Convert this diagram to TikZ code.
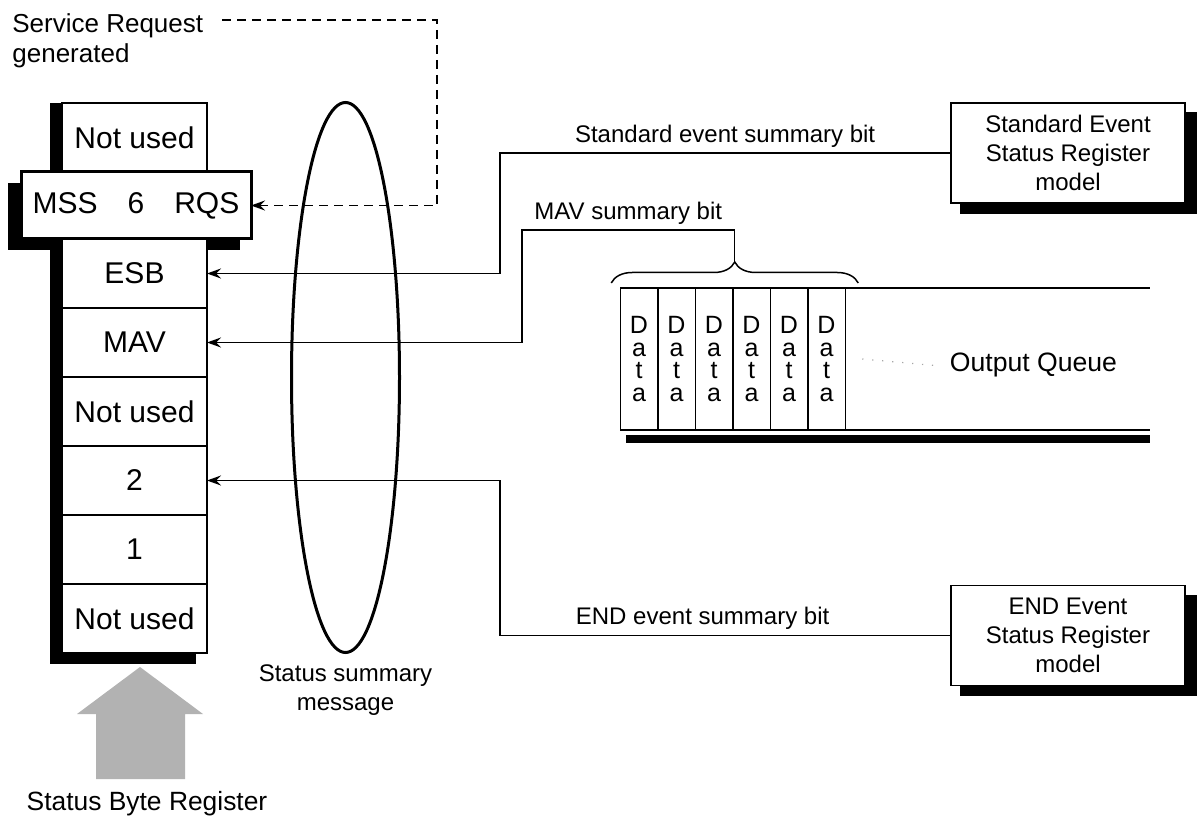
\documentclass[tikz,border=0pt]{standalone}
\usepackage{fontspec}
\setmainfont{Liberation Sans}
\usetikzlibrary{positioning, arrows.meta, shapes.geometric,
decorations.pathreplacing}
\pgfdeclarelayer{background}
\pgfsetlayers{background,main}

\tikzset{
  regcell/.style={draw, line width=0.75pt, fill=white, minimum width=72.5pt,
    minimum height=34.5pt, inner sep=0pt, outer sep=0pt,
    font=\fontsize{15}{18}\selectfont},
  model/.style={draw, line width=0.75pt, fill=white, minimum width=117pt,
    minimum height=50pt, align=center, inner sep=0pt,
    font=\fontsize{12}{14.5}\selectfont},
  datacell/.style={draw, line width=0.75pt, minimum width=18.75pt,
    minimum height=71pt, inner sep=0pt, outer sep=0pt, align=center,
    font=\fontsize{12.5}{11.3}\selectfont},
  lbl/.style={font=\fontsize{12}{14.5}\selectfont, inner sep=2.5pt},
  sig/.style={line width=0.75pt,
    -{Stealth[length=7pt, width=5pt, inset=2.5pt]}},
}

\begin{document}
\begin{tikzpicture}[x=0.5pt, y=-0.5pt]
\useasboundingbox (0,0) rectangle (1201,818);

% status byte register
\node[regcell] (b7) at (134.5,137.5) {Not used};
\node[regcell] (b5) at (134.5,273.5) {ESB};
\node[regcell, below=0pt of b5] (b4) {MAV};
\node[regcell, below=0pt of b4] (b3) {Not used};
\node[regcell, below=0pt of b3] (b2) {2};
\node[regcell, below=0pt of b2] (b1) {1};
\node[regcell, below=0pt of b1] (b0) {Not used};
\node[regcell, line width=1.5pt, minimum width=115pt, minimum height=33.5pt]
    (b6) at (136,205.5) {MSS\quad 6\quad RQS};
\fill[black!30] (140,667) -- (203,714) -- (185,714) -- (185,779)
    -- (96,779) -- (96,714) -- (77,714) -- cycle;
\node[font=\fontsize{13.2}{16}\selectfont, anchor=base] (sbr)
    at (147,810) {Status Byte Register};

% summary message
\node[draw, ellipse, line width=1.5pt, minimum width=54pt,
    minimum height=275pt, inner sep=0pt] (ssm) at (345.5,377.5) {};
\node[lbl, below=5pt of ssm, align=center, inner sep=0pt] (ssmtext)
    {Status summary\\message};

% event registers
\node[model] (ses) at (1068,153) {Standard Event\\Status Register\\model};
\node[model] (ees) at (1068,635.5) {END Event\\Status Register\\model};

% output queue
\node[datacell] (d1) at (639,359) {D\\a\\t\\a};
\node[datacell, right=0pt of d1] (d2) {D\\a\\t\\a};
\node[datacell, right=0pt of d2] (d3) {D\\a\\t\\a};
\node[datacell, right=0pt of d3] (d4) {D\\a\\t\\a};
\node[datacell, right=0pt of d4] (d5) {D\\a\\t\\a};
\node[datacell, right=0pt of d5] (d6) {D\\a\\t\\a};
\coordinate (qtop) at (1150,288);
\coordinate (qbot) at (1150,430);
\draw[line width=0.75pt] (d6.north east) -- (qtop) (d6.south east) -- (qbot);
\node[font=\fontsize{13.3}{16}\selectfont, inner sep=0pt, anchor=base] (oq)
    at (1033.5,372) {Output Queue};
\draw[black!35, line width=0.6pt, dash pattern=on 0.6pt off 4.4pt]
    ([xshift=8.5pt]d6.east) -- ([xshift=-7.5pt]oq.west);
\draw[line width=0.75pt, decorate, decoration={brace, amplitude=10.5pt}]
    ([shift={(-4.5pt,2.5pt)}]d1.north west)
    -- ([shift={(6.5pt,2.5pt)}]d6.north east);

% connectors
\coordinate (esbturn) at (500,153);
\coordinate (mavtip) at (734.5,262);
\coordinate (mavcorner) at (734.5,230);
\coordinate (mavturn) at (522,230);
\coordinate (endturn) at (500,635.5);
\coordinate (srqstart) at (222,20);
\coordinate (srqturn) at (437,20);
\node[anchor=north west, align=left, inner sep=0pt,
    font=\fontsize{13}{15}\selectfont] (srq) at (12,13.4)
    {Service Request\\generated};

\draw[sig] (ses.west) -- node[lbl, above] {Standard event summary bit}
    (esbturn) |- (b5.east);
\draw[sig] (mavtip) -- (mavcorner) -- node[lbl, above] {MAV summary bit}
    (mavturn) |- (b4.east);
\draw[sig] (ees.west) -- node[lbl, above, pos=0.55] {END event summary bit}
    (endturn) |- (b2.east);
\draw[sig, dash pattern=on 4.5pt off 3pt] (srqstart) -- (srqturn) |- (b6.east);

% shadows
\begin{pgfonlayer}{background}
\fill ([xshift=-6pt]b7.north west)
    rectangle ([shift={(-5.5pt,-5.5pt)}]b0.south east);
\fill ([shift={(-6.5pt,-5.5pt)}]b6.north west)
    rectangle ([shift={(-5.5pt,-5.5pt)}]b6.south east);
\fill ([shift={(5pt,-5pt)}]ses.north west)
    rectangle ([shift={(5.5pt,-5pt)}]ses.south east);
\fill ([shift={(5pt,-5pt)}]ees.north west)
    rectangle ([shift={(5.5pt,-5pt)}]ees.south east);
\fill ([shift={(3pt,-2.5pt)}]d1.south west)
    rectangle ([yshift=-6.5pt]qbot);
\end{pgfonlayer}
\end{tikzpicture}
\end{document}
